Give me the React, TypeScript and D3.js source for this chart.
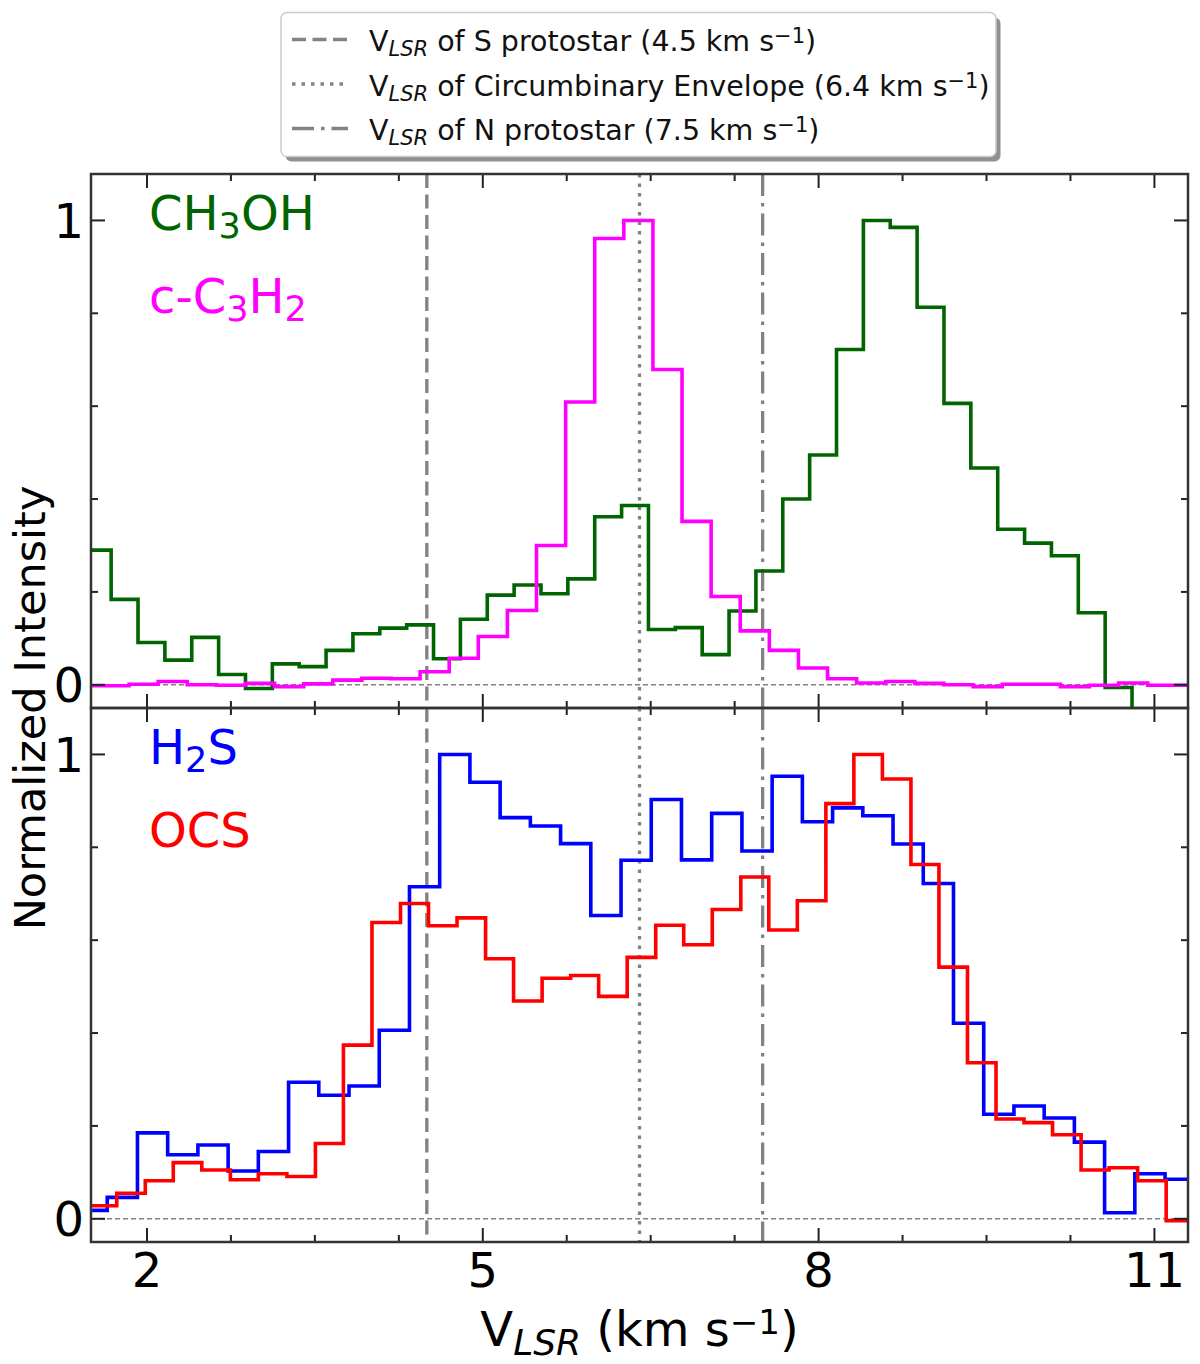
import * as d3 from 'd3'

// channel velocities (km/s) and normalized intensities
const ch3ohV = [1.32, 1.56, 1.80, 2.04, 2.28, 2.52, 2.76, 3.00, 3.24, 3.48, 3.72, 3.96, 4.20, 4.44, 4.68, 4.92, 5.16, 5.40, 5.64, 5.88, 6.12, 6.36, 6.60, 6.84, 7.08, 7.32, 7.56, 7.80, 8.04, 8.28, 8.52, 8.76, 9.00, 9.24, 9.48, 9.72, 9.96, 10.20, 10.44, 10.68, 10.92, 11.16, 11.40]
const ch3ohI = [0.30, 0.29, 0.184, 0.091, 0.053, 0.102, 0.022, -0.008, 0.045, 0.039, 0.074, 0.11, 0.122, 0.129, 0.056, 0.141, 0.193, 0.215, 0.196, 0.228, 0.362, 0.386, 0.119, 0.123, 0.065, 0.159, 0.245, 0.40, 0.495, 0.722, 1.0, 0.985, 0.813, 0.606, 0.467, 0.335, 0.305, 0.278, 0.155, -0.006, -0.14, -0.12, -0.10]

const c3h2V = [1.45, 1.71, 1.97, 2.23, 2.49, 2.75, 3.01, 3.27, 3.53, 3.79, 4.05, 4.31, 4.57, 4.83, 5.09, 5.35, 5.61, 5.87, 6.13, 6.39, 6.65, 6.91, 7.17, 7.43, 7.69, 7.95, 8.21, 8.47, 8.73, 8.99, 9.25, 9.51, 9.77, 10.03, 10.29, 10.55, 10.81, 11.07, 11.33]
const c3h2I = [-0.002, -0.002, 0.001, 0.007, 0.0, -0.001, 0.003, -0.004, 0.002, 0.01, 0.014, 0.013, 0.028, 0.057, 0.104, 0.16, 0.30, 0.609, 0.961, 1.0, 0.679, 0.352, 0.19, 0.116, 0.074, 0.036, 0.013, 0.004, 0.007, 0.003, 0.0, -0.004, 0.001, 0.001, -0.004, -0.001, 0.004, -0.001, -0.001]

const h2sV = [1.51, 1.78, 2.05, 2.32, 2.59, 2.86, 3.13, 3.40, 3.67, 3.94, 4.21, 4.48, 4.75, 5.02, 5.29, 5.56, 5.83, 6.10, 6.37, 6.64, 6.91, 7.18, 7.45, 7.72, 7.99, 8.26, 8.53, 8.80, 9.07, 9.34, 9.61, 9.88, 10.15, 10.42, 10.69, 10.96, 11.23, 11.50]
const h2sI = [0.018, 0.046, 0.185, 0.138, 0.159, 0.103, 0.145, 0.294, 0.266, 0.286, 0.406, 0.715, 1.0, 0.94, 0.864, 0.846, 0.808, 0.653, 0.772, 0.903, 0.773, 0.873, 0.792, 0.953, 0.855, 0.885, 0.868, 0.807, 0.722, 0.421, 0.225, 0.243, 0.217, 0.165, 0.013, 0.097, 0.085, 0.08]

const ocsV = [1.35, 1.60, 1.86, 2.11, 2.36, 2.62, 2.87, 3.12, 3.38, 3.63, 3.88, 4.14, 4.39, 4.64, 4.90, 5.15, 5.40, 5.66, 5.91, 6.16, 6.42, 6.67, 6.92, 7.18, 7.43, 7.68, 7.94, 8.19, 8.44, 8.70, 8.95, 9.20, 9.46, 9.71, 9.96, 10.22, 10.47, 10.72, 10.98, 11.23, 11.48]
const ocsI = [0.028, 0.028, 0.055, 0.082, 0.121, 0.105, 0.084, 0.097, 0.091, 0.162, 0.374, 0.638, 0.679, 0.631, 0.648, 0.56, 0.469, 0.518, 0.524, 0.479, 0.563, 0.632, 0.59, 0.666, 0.736, 0.622, 0.685, 0.894, 1.0, 0.947, 0.763, 0.542, 0.336, 0.215, 0.207, 0.181, 0.105, 0.11, 0.082, -0.004, -0.004]

// systemic velocities marked with vertical lines
const vlsrValues = [4.5, 6.4, 7.5]
const vlsrLabels = ['S protostar (4.5 km s', 'Circumbinary Envelope (6.4 km s', 'N protostar (7.5 km s']
const vlsrDash = ['14,6.5', '3.5,6', '22,7,3.5,7']

const xMajor = [2, 5, 8, 11]
const xMinor = [2.75, 3.5, 4.25, 5.75, 6.5, 7.25, 8.75, 9.5, 10.25]
const yMajor = [0, 1]
const yMinor = [0.2, 0.4, 0.6, 0.8]

const W = 1200, H = 1364
const L = 91, R = 1188
const FONT = 'DejaVu Sans'
const GRAY = '#828282'

const x = d3.scaleLinear().domain([1.5, 11.3]).range([L, R])

type Spec = { v: number[]; i: number[]; color: string }

function Panel({ id, top, bottom, series, labels, showX }: {
  id: string; top: number; bottom: number; series: Spec[]
  labels: { main: string[]; sub: string[]; color: string }[]; showX: boolean
}) {
  const y = d3.scaleLinear().domain([-0.05, 1.1]).range([bottom, top])
  const line = d3.line<number>().x((d) => x(d)).curve(d3.curveStep)
  return (
    <g>
      <defs>
        <clipPath id={id}><rect x={L} y={top} width={R - L} height={bottom - top} /></clipPath>
      </defs>
      <g clipPath={`url(#${id})`}>
        <line x1={L} x2={R} y1={y(0)} y2={y(0)} stroke={GRAY} strokeWidth={1.5} strokeDasharray="5,3" />
        {vlsrValues.map((v, k) => (
          <line key={k} x1={x(v)} x2={x(v)} y1={top} y2={bottom} stroke={GRAY} strokeWidth={3.3} strokeDasharray={vlsrDash[k]} />
        ))}
        {series.map((s, k) => (
          <path key={k} d={line.y((_, j) => y(s.i[j]))(s.v) || ''} fill="none" stroke={s.color} strokeWidth={3.6} strokeLinejoin="miter" />
        ))}
      </g>
      {labels.map((lb, k) => (
        <text key={k} x={149} y={top + 56 + k * 83} fill={lb.color} fontSize={48} fontFamily={FONT}>
          {lb.main.map((m, j) => (
            <>
              <tspan key={'m' + j} dy={j > 0 ? -7.5 : 0}>{m}</tspan>
              {lb.sub[j] && <tspan key={'s' + j} fontSize={35} dy={7.5}>{lb.sub[j]}</tspan>}
            </>
          ))}
        </text>
      ))}
      {/* ticks, all four sides, pointing in */}
      {[...xMajor.map((t) => [t, 14]), ...xMinor.map((t) => [t, 7])].map(([t, len], k) => (
        <g key={'xt' + k} stroke="#222" strokeWidth={2}>
          <line x1={x(t)} x2={x(t)} y1={top} y2={top + len} />
          <line x1={x(t)} x2={x(t)} y1={bottom} y2={bottom - len} />
        </g>
      ))}
      {[...yMajor.map((t) => [t, 14]), ...yMinor.map((t) => [t, 7])].map(([t, len], k) => (
        <g key={'yt' + k} stroke="#222" strokeWidth={2}>
          <line x1={L} x2={L + len} y1={y(t)} y2={y(t)} />
          <line x1={R} x2={R - len} y1={y(t)} y2={y(t)} />
        </g>
      ))}
      {yMajor.map((t) => (
        <text key={'yl' + t} x={84} y={y(t) + 17.5} textAnchor="end" fontSize={48} fontFamily={FONT}>{t}</text>
      ))}
      {showX && xMajor.map((t) => (
        <text key={'xl' + t} x={x(t)} y={bottom + 45} textAnchor="middle" fontSize={48} fontFamily={FONT}>{t}</text>
      ))}
      <rect x={L} y={top} width={R - L} height={bottom - top} fill="none" stroke="#333" strokeWidth={2.5} />
    </g>
  )
}

function Legend() {
  const bx = 281, by = 12.5, bw = 715, bh = 144
  return (
    <g fontFamily={FONT}>
      <rect x={bx + 4.5} y={by + 5} width={bw} height={bh} rx={6} fill="#909090" />
      <rect x={bx} y={by} width={bw} height={bh} rx={6} fill="#fff" stroke="#cccccc" strokeWidth={1.5} />
      {vlsrLabels.map((lb, k) => {
        const base = 51 + k * 44.5
        return (
          <g key={k}>
            <line x1={292} x2={348} y1={base - 11.5} y2={base - 11.5} stroke={GRAY} strokeWidth={3.3} strokeDasharray={vlsrDash[k]} />
            <text x={369} y={base} fontSize={28.5} fill="#111">
              V<tspan fontSize={21} fontStyle="italic" dy={5}>LSR</tspan>
              <tspan dy={-5}> of {lb}</tspan>
              <tspan fontSize={21} dy={-8}>−1</tspan>
              <tspan dy={8}>)</tspan>
            </text>
          </g>
        )
      })}
    </g>
  )
}

export default function App() {
  const top = 174, mid = 708, bottom = 1242
  return (
    <div style={{ position: 'absolute', left: 0, top: 0, background: '#fff' }}>
      <svg width={W} height={H} viewBox={`0 0 ${W} ${H}`}>
        <rect width={W} height={H} fill="#fff" />
        <Panel id="clipTop" top={top} bottom={mid} showX={false}
          series={[{ v: ch3ohV, i: ch3ohI, color: '#006400' }, { v: c3h2V, i: c3h2I, color: '#ff00ff' }]}
          labels={[
            { main: ['CH', 'OH'], sub: ['3', ''], color: '#006400' },
            { main: ['c-C', 'H'], sub: ['3', '2'], color: '#ff00ff' },
          ]} />
        <Panel id="clipBot" top={mid} bottom={bottom} showX={true}
          series={[{ v: h2sV, i: h2sI, color: '#0000ff' }, { v: ocsV, i: ocsI, color: '#ff0000' }]}
          labels={[
            { main: ['H', 'S'], sub: ['2', ''], color: '#0000ff' },
            { main: ['OCS'], sub: [''], color: '#ff0000' },
          ]} />
        <text transform={`translate(45,${(top + bottom) / 2}) rotate(-90)`} textAnchor="middle" fontSize={43} fontFamily={FONT}>Normalized Intensity</text>
        <text x={(L + R) / 2} y={1346} textAnchor="middle" fontSize={48} fontFamily={FONT}>
          V<tspan fontSize={36} fontStyle="italic" dy={9}>LSR</tspan>
          <tspan dy={-9}> (km s</tspan>
          <tspan fontSize={34} dy={-12}>−1</tspan>
          <tspan dy={12}>)</tspan>
        </text>
        <Legend />
      </svg>
    </div>
  )
}
